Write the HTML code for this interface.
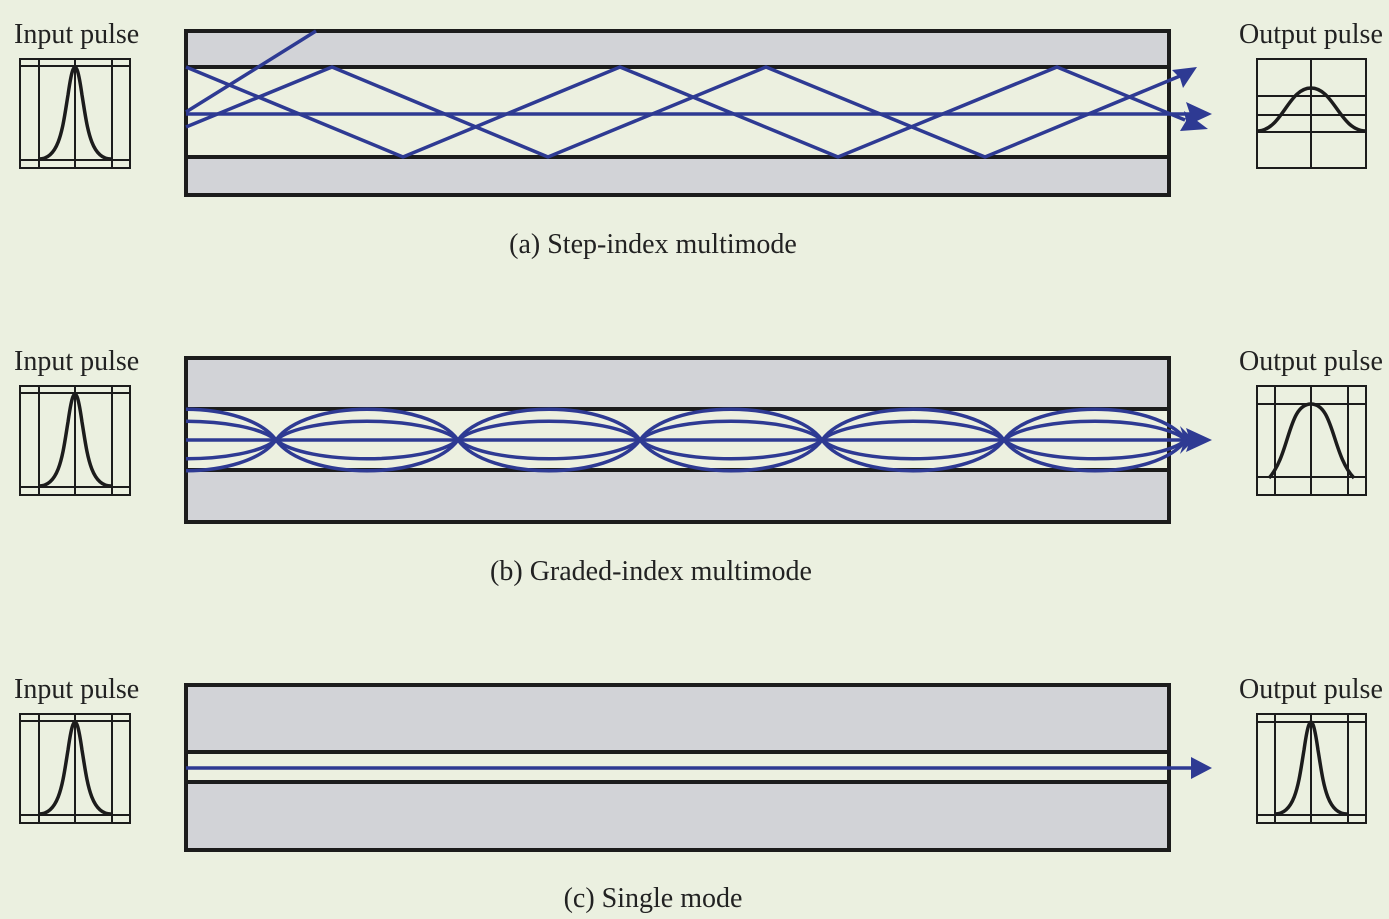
<!DOCTYPE html>
<html><head><meta charset="utf-8"><style>
html,body{margin:0;padding:0;background:#ebf0e0;}
svg{display:block;}
text{font-family:"Liberation Serif",serif;font-size:28px;fill:#222;}
</style></head><body>
<svg width="1389" height="919" viewBox="0 0 1389 919" xmlns="http://www.w3.org/2000/svg">
<defs>
<clipPath id="cb"><rect x="186" y="400" width="1010" height="80"/></clipPath>
</defs>
<rect width="1389" height="919" fill="#ebf0e0"/>

<!-- Panel a -->
<rect x="186" y="31" width="983" height="164" fill="#d2d3d7" stroke="#1c1c1c" stroke-width="4"/>
<rect x="188" y="67" width="979" height="90" fill="#ecf0e0"/>
<line x1="186" y1="67" x2="1169" y2="67" stroke="#1c1c1c" stroke-width="4"/>
<line x1="186" y1="157" x2="1169" y2="157" stroke="#1c1c1c" stroke-width="4"/>
<g stroke="#2e3a93" stroke-width="3.5" fill="none">
<line x1="186" y1="112" x2="316" y2="31"/>
<line x1="186" y1="114" x2="1190" y2="114"/>
<polyline points="186,67 403,157 620,67 838,157 1057,67 1185,120"/>
<polyline points="186,127 332,67 548,157 766,67 985,157 1180,76"/>
</g>
<g fill="#2e3a93">
<path d="M1212,114 L1186,102 L1190,114 L1186,126 Z"/>
<path d="M1208,129 L1180,131 L1186,121 L1184,111 Z"/>
<path d="M1197,67 L1183,88 L1180,78 L1172,70 Z"/>
</g>

<!-- Panel b -->
<rect x="186" y="358" width="983" height="164" fill="#d2d3d7" stroke="#1c1c1c" stroke-width="4"/>
<rect x="188" y="409" width="979" height="61" fill="#ecf0e0"/>
<line x1="186" y1="409" x2="1169" y2="409" stroke="#1c1c1c" stroke-width="4"/>
<line x1="186" y1="470" x2="1169" y2="470" stroke="#1c1c1c" stroke-width="4"/>
<g stroke="#2e3a93" stroke-width="3.5" fill="none" clip-path="url(#cb)">
<line x1="186" y1="440" x2="1195" y2="440"/>
<path d="M94,440 C124,399 246,399 276,440 C306,481 428,481 458,440 C488,399 610,399 640,440 C670,481 792,481 822,440 C852,399 974,399 1004,440 C1034,481 1156,481 1186,440"/>
<path d="M94,440 C124,481 246,481 276,440 C306,399 428,399 458,440 C488,481 610,481 640,440 C670,399 792,399 822,440 C852,481 974,481 1004,440 C1034,399 1156,399 1186,440"/>
<path d="M94,440 C124,415 246,415 276,440 C306,465 428,465 458,440 C488,415 610,415 640,440 C670,465 792,465 822,440 C852,415 974,415 1004,440 C1034,465 1156,465 1186,440"/>
<path d="M94,440 C124,465 246,465 276,440 C306,415 428,415 458,440 C488,465 610,465 640,440 C670,415 792,415 822,440 C852,465 974,465 1004,440 C1034,415 1156,415 1186,440"/>
</g>
<g fill="#2e3a93">
<path d="M1212,440 L1186,428 L1190,440 L1186,452 Z"/>
<path d="M1196,442 L1180,426 L1184,438 Z"/>
<path d="M1196,438 L1180,454 L1184,442 Z"/>
</g>

<!-- Panel c -->
<rect x="186" y="685" width="983" height="165" fill="#d2d3d7" stroke="#1c1c1c" stroke-width="4"/>
<rect x="188" y="752" width="979" height="30" fill="#ecf0e0"/>
<line x1="186" y1="752" x2="1169" y2="752" stroke="#1c1c1c" stroke-width="4"/>
<line x1="186" y1="782" x2="1169" y2="782" stroke="#1c1c1c" stroke-width="4"/>
<line x1="186" y1="768" x2="1192" y2="768" stroke="#2e3a93" stroke-width="3.5"/>
<path d="M1212,768 L1191,757 L1191,779 Z" fill="#2e3a93"/>

<g stroke="#1c1c1c" fill="none">
<g id="inp" stroke-width="2">
<rect x="20" y="59" width="110" height="109"/>
<line x1="39" y1="59" x2="39" y2="168"/><line x1="75" y1="59" x2="75" y2="168"/><line x1="112" y1="59" x2="112" y2="168"/>
<line x1="20" y1="66" x2="130" y2="66"/><line x1="20" y1="160" x2="130" y2="160"/>
<path d="M39,159 C60,159 63,125 68,95 C71,74 73,67 75,67 C77,67 79,74 82,95 C87,125 90,159 111,159" stroke-width="3.5"/>
</g>
<use href="#inp" y="327"/>
<use href="#inp" y="655"/>

<g stroke-width="2">
<rect x="1257" y="59" width="109" height="109"/>
<line x1="1311" y1="59" x2="1311" y2="168"/>
<line x1="1257" y1="96" x2="1366" y2="96"/><line x1="1257" y1="115" x2="1366" y2="115"/><line x1="1257" y1="132" x2="1366" y2="132"/>
<path d="M1257,131 C1282,131 1288,88 1311,88 C1334,88 1340,131 1366,131" stroke-width="3.5"/>
</g>
<g stroke-width="2">
<rect x="1257" y="386" width="109" height="109"/>
<line x1="1275" y1="386" x2="1275" y2="495"/><line x1="1311" y1="386" x2="1311" y2="495"/><line x1="1348" y1="386" x2="1348" y2="495"/>
<line x1="1257" y1="404" x2="1366" y2="404"/><line x1="1257" y1="477" x2="1366" y2="477"/>
<path d="M1269,478 C1290,455 1288,404 1311,404 C1334,404 1332,455 1354,478" stroke-width="3.5"/>
</g>
<g stroke-width="2">
<rect x="1257" y="714" width="109" height="109"/>
<line x1="1275" y1="714" x2="1275" y2="823"/><line x1="1311" y1="714" x2="1311" y2="823"/><line x1="1348" y1="714" x2="1348" y2="823"/>
<line x1="1257" y1="722" x2="1366" y2="722"/><line x1="1257" y1="815" x2="1366" y2="815"/>
<path d="M1275,814 C1296,814 1299,780 1304,750 C1307,729 1309,722 1311,722 C1313,722 1315,729 1318,750 C1323,780 1326,814 1347,814" stroke-width="3.5"/>
</g>
</g>

<text x="14" y="43">Input pulse</text>
<text x="14" y="370">Input pulse</text>
<text x="14" y="698">Input pulse</text>
<text x="1239" y="43">Output pulse</text>
<text x="1239" y="370">Output pulse</text>
<text x="1239" y="698">Output pulse</text>
<text x="653" y="253" text-anchor="middle">(a) Step-index multimode</text>
<text x="651" y="580" text-anchor="middle">(b) Graded-index multimode</text>
<text x="653" y="907" text-anchor="middle">(c) Single mode</text>
</svg>
</body></html>
